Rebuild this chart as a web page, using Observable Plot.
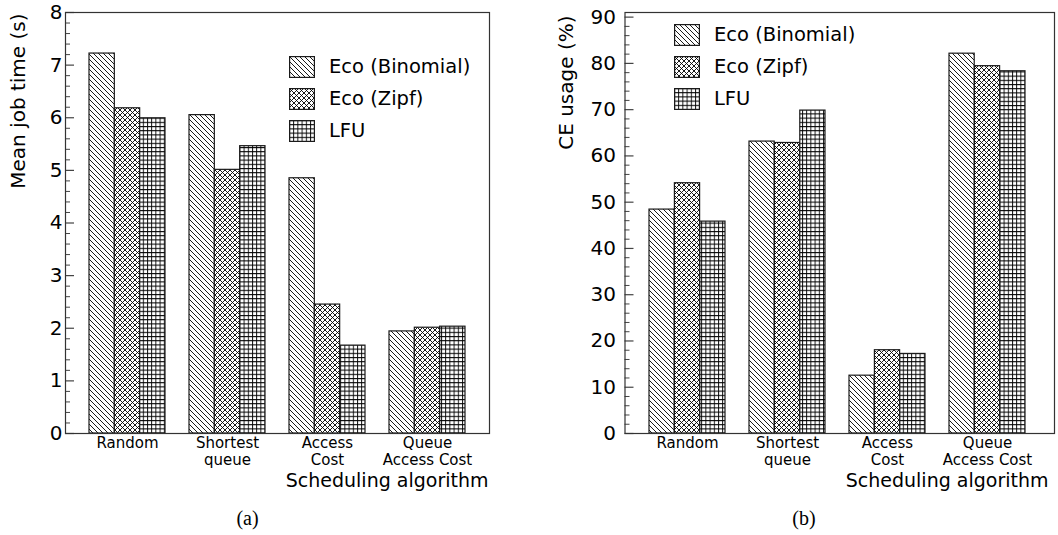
<!DOCTYPE html>
<html>
<head>
<meta charset="utf-8">
<script src="https://cdn.jsdelivr.net/npm/d3@7"></script>
<script src="https://cdn.jsdelivr.net/npm/@observablehq/plot@0.6"></script>
<style>
  body { margin: 0; background: #fff; }
  #wrap { position: relative; width: 1058px; height: 535px; overflow: hidden; font-family: "DejaVu Sans", sans-serif; }
  .panel { position: absolute; top: 0; }
  .legend-item { position: absolute; display: flex; align-items: center; font-size: 19.5px; color: #000; white-space: nowrap; }
  .legend-item svg { display: block; margin-right: 14px; }
  .caption { position: absolute; width: 100px; text-align: center; font-family: "Liberation Serif", "Times New Roman", serif; font-size: 20px; line-height: 20px; color: #000; }
</style>
</head>
<body>
<div id="wrap">
  <svg width="0" height="0" style="position:absolute">
    <defs>
      <pattern id="pBin" patternUnits="userSpaceOnUse" width="5" height="5">
        <rect width="5" height="5" fill="#fff"/>
        <path d="M-1,-1L6,6M-1,4L1,6M4,-1L6,1" stroke="#000" stroke-width="0.9"/>
      </pattern>
      <pattern id="pZipf" patternUnits="userSpaceOnUse" width="5" height="5">
        <rect width="5" height="5" fill="#fff"/>
        <path d="M-1,-1L6,6M-1,4L1,6M4,-1L6,1M-1,6L6,-1M-1,1L1,-1M4,6L6,4" stroke="#000" stroke-width="0.9"/>
      </pattern>
      <pattern id="pLFU" patternUnits="userSpaceOnUse" width="4.2" height="4.2">
        <rect width="4.2" height="4.2" fill="#fff"/>
        <path d="M0,0.5H4.2M0.5,0V4.2" stroke="#000" stroke-width="0.9"/>
      </pattern>
    </defs>
  </svg>
  <div id="a" class="panel" style="left:0px"></div>
  <div id="b" class="panel" style="left:529px"></div>
</div>
<script>
// ---- data ----
const algorithms = ["Random", "Shortest\nqueue", "Access\nCost", "Queue\nAccess Cost"];
const series = ["Eco (Binomial)", "Eco (Zipf)", "LFU"];
const patternFills = ["url(#pBin)", "url(#pZipf)", "url(#pLFU)"];

const jobTimeBinomial = [7.22, 6.05, 4.85, 1.94];
const jobTimeZipf     = [6.18, 5.01, 2.45, 2.01];
const jobTimeLFU      = [5.99, 5.46, 1.67, 2.03];

const ceBinomial = [48.4, 63.1, 12.5, 82.1];
const ceZipf     = [54.1, 62.8, 18.0, 79.4];
const ceLFU      = [45.8, 69.8, 17.2, 78.3];

const jobTimeTicks = [0, 1, 2, 3, 4, 5, 6, 7, 8];
const ceTicks = [0, 10, 20, 30, 40, 50, 60, 70, 80, 90];

const xTitle = "Scheduling algorithm";
const yTitleA = "Mean job time (s)";
const yTitleB = "CE usage (%)";
const captions = ["(a)", "(b)"];

// ---- chart builder ----
const W = 529, H = 500;
function makeChart(o) {
  const n = algorithms.length, pad = 0.24;
  const step = (o.xRange[1] - o.xRange[0]) / (n - pad + 2 * pad);
  const bw = step * (1 - pad), sub = bw / series.length;
  const plotW = W - o.marginLeft - o.marginRight;
  const eps = 1e-9;
  const minor = d3.range(o.yDomain[0], o.yDomain[1] + eps, o.minorStep)
    .filter(v => !o.majorTicks.some(t => Math.abs(t - v) < eps));
  const marks = [];
  series.forEach((s, i) => {
    const data = algorithms.map((a, j) => ({algorithm: a, value: o.values[i][j]}));
    marks.push(Plot.barY(data, {
      x: "algorithm", y: "value", fill: patternFills[i],
      stroke: "#1a1a1a", strokeWidth: 1.2,
      insetLeft: i * sub, insetRight: (series.length - 1 - i) * sub
    }));
  });
  marks.push(Plot.ruleY(minor, {stroke: "#444", strokeWidth: 1, insetRight: plotW - 5}));
  marks.push(Plot.ruleY(o.majorTicks, {stroke: "#444", strokeWidth: 1.2, insetRight: plotW - 9}));
  marks.push(Plot.frame({stroke: "#333", strokeWidth: 1.2}));
  marks.push(Plot.axisY(o.majorTicks, {tickSize: 0, tickPadding: o.yTickPadding, fontSize: 20, label: null,
    tickFormat: d => String(d)}));
  marks.push(Plot.axisX({tickSize: 0, tickPadding: 3, fontSize: 15, lineHeight: 1.1, label: null}));
  marks.push(Plot.text([o.yLabel], {text: d => d, frameAnchor: "top-left", rotate: -90, textAnchor: "end",
    dx: o.yLabelDx, dy: o.yLabelDy, fontSize: 20}));
  marks.push(Plot.text([xTitle], {text: d => d, frameAnchor: "bottom-right", textAnchor: "end",
    dx: o.xTitleDx, dy: 53, fontSize: 19}));
  return Plot.plot({
    width: W, height: H,
    marginLeft: o.marginLeft, marginRight: o.marginRight, marginTop: 12, marginBottom: 67,
    style: {fontFamily: "DejaVu Sans, sans-serif", fontSize: "20px", color: "#000", background: "transparent"},
    x: {type: "band", domain: algorithms, range: o.xRange, paddingInner: pad, paddingOuter: pad, label: null},
    y: {domain: o.yDomain, label: null},
    marks
  });
}

document.getElementById("a").append(makeChart({
  values: [jobTimeBinomial, jobTimeZipf, jobTimeLFU],
  yDomain: [0, 8], majorTicks: jobTimeTicks, minorStep: 0.2,
  yLabel: yTitleA, marginLeft: 65, marginRight: 40, xRange: [65, 489],
  yTickPadding: 3, yLabelDx: -55, yLabelDy: 1, xTitleDx: -1
}));
document.getElementById("b").append(makeChart({
  values: [ceBinomial, ceZipf, ceLFU],
  yDomain: [0, 91], majorTicks: ceTicks, minorStep: 2,
  yLabel: yTitleB, marginLeft: 95.5, marginRight: 4, xRange: [95.5, 520.5],
  yTickPadding: 9, yLabelDx: -66, yLabelDy: 3, xTitleDx: -6
}));

// ---- legends (in-plot, HTML) ----
const wrap = document.getElementById("wrap");
function legend(left, top) {
  series.forEach((s, i) => {
    const item = document.createElement("div");
    item.className = "legend-item";
    item.style.left = left + "px";
    item.style.top = (top + i * 32) + "px";
    item.innerHTML = `<svg width="26" height="22"><rect x="0.6" y="0.6" width="24.8" height="20.8" fill="${patternFills[i]}" stroke="#1a1a1a" stroke-width="1.2"/></svg>`;
    const t = document.createElement("span");
    t.textContent = s;
    item.append(t);
    wrap.append(item);
  });
}
legend(289, 55);
legend(674, 23);

// ---- captions ----
[[247.5, captions[0]], [804, captions[1]]].forEach(([cx, txt]) => {
  const c = document.createElement("div");
  c.className = "caption";
  c.style.left = (cx - 50) + "px";
  c.style.top = "508px";
  c.textContent = txt;
  wrap.append(c);
});
</script>
</body>
</html>
